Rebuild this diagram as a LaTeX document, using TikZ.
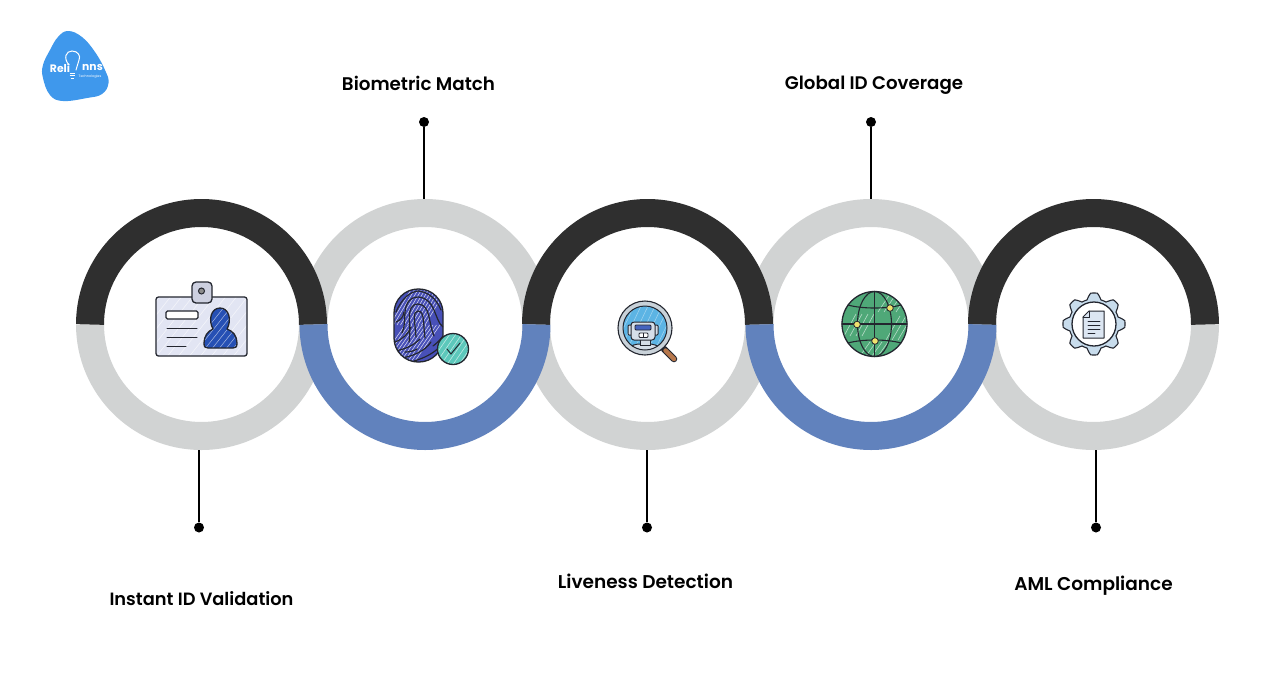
\documentclass[tikz,border=0pt]{standalone}
\usepackage{fontspec}
\setmainfont{Poppins}[UprightFont=* SemiBold,BoldFont=* Bold]
\newfontfamily\thinfont{Poppins}
\definecolor{ringgray}{HTML}{D1D3D3}
\definecolor{ringdark}{HTML}{2F2F2F}
\definecolor{ringblue}{HTML}{6182BD}
\definecolor{ink}{HTML}{23262F}
\definecolor{logoblue}{HTML}{3F98EC}
\definecolor{cardfill}{HTML}{E2E5F3}
\definecolor{clipfill}{HTML}{CDD0E0}
\definecolor{personblue}{HTML}{2650B4}
\definecolor{printblue}{HTML}{4850B8}
\definecolor{checkteal}{HTML}{5CC8BB}
\definecolor{handle}{HTML}{B8784C}
\definecolor{rim}{HTML}{C9D2D9}
\definecolor{glass}{HTML}{5CB4E4}
\definecolor{robot}{HTML}{D5DEE8}
\definecolor{visor}{HTML}{4664BE}
\definecolor{globegreen}{HTML}{4FA878}
\definecolor{pin}{HTML}{F0E26E}
\definecolor{gearblue}{HTML}{C8DCEC}
\definecolor{docblue}{HTML}{DCE6F2}
\tikzset{
  x=1pt,y=-1pt,
  ringarc/.style={line width=28pt,line cap=butt},
  ringnode/.style={circle,minimum size=251pt,inner sep=0pt,draw=none},
  dotnode/.style={circle,fill=black,minimum size=10pt,inner sep=0pt},
  labelnode/.style={text=black,inner sep=0pt,anchor=base},
  conn/.style={black,line width=2pt},
  sk/.style={draw=ink,line width=1.3pt,line join=round,line cap=round},
  skl/.style={draw=ink,line width=1pt,line cap=round},
  hatch/.style={white,line width=0.6pt,opacity=0.6}
}
\begin{document}
\begin{tikzpicture}
\path[use as bounding box,fill=white] (0,0) rectangle (1288,686);

% ring anchors
\node[ringnode] (r1) at (201.5,324.5) {};
\node[ringnode] (r2) at (425,324.5) {};
\node[ringnode] (r3) at (647.5,324.5) {};
\node[ringnode] (r4) at (871,324.5) {};
\node[ringnode] (r5) at (1093.5,324.5) {};

% gray halves
\foreach \c in {201.5,647.5,1093.5}{
  \draw[ringarc,ringgray] ({\c+111.5},324.5) arc[start angle=0,end angle=180,radius=111.5];}
\foreach \c in {425,871}{
  \draw[ringarc,ringgray] ({\c-111.5},324.5) arc[start angle=180,end angle=360,radius=111.5];}
% dark and blue halves
\foreach \c in {201.5,647.5,1093.5}{
  \draw[ringarc,ringdark] ({\c-111.5},324.5) arc[start angle=180,end angle=360,radius=111.5];}
\foreach \c in {425,871}{
  \draw[ringarc,ringblue] ({\c+111.5},324.5) arc[start angle=0,end angle=180,radius=111.5];}

% dots, connectors, labels
\node[dotnode] (d1) at (199,527.5) {};
\node[dotnode] (d2) at (424,122) {};
\node[dotnode] (d3) at (647,527.5) {};
\node[dotnode] (d4) at (871,122) {};
\node[dotnode] (d5) at (1096,527.5) {};
\draw[conn] (d1) -- (d1 |- r1.south);
\draw[conn] (d2) -- (d2 |- r2.north);
\draw[conn] (d3) -- (d3 |- r3.south);
\draw[conn] (d4) -- (d4 |- r4.north);
\draw[conn] (d5) -- (d5 |- r5.south);
\node[labelnode,font=\fontsize{17.8}{21}\selectfont] (l1) at (201.5,605.5) {Instant ID Validation};
\node[labelnode,font=\fontsize{18.3}{21}\selectfont] (l2) at (418.5,90) {Biometric Match};
\node[labelnode,font=\fontsize{18.5}{21}\selectfont] (l3) at (645.5,588) {Liveness Detection};
\node[labelnode,font=\fontsize{18.2}{21}\selectfont] (l4) at (874,89) {Global ID Coverage};
\node[labelnode,font=\fontsize{18.5}{21}\selectfont] (l5) at (1093.5,590) {AML Compliance};

% ---------- logo
\fill[logoblue] plot[smooth cycle,tension=0.7] coordinates
 {(68,31) (82,37) (95,52) (105,70) (108.5,83) (102,94) (87,98) (63,101) (50,95) (43,78) (43,65) (50,50) (58,37)};
\node[white,inner sep=0pt,font=\fontsize{10.8}{11}\selectfont\bfseries] (logoa) at (60,68) {Reli};
\node[white,inner sep=0pt,font=\fontsize{10.8}{11}\selectfont\bfseries] (logob) at (92.5,67) {nns};
\node[white,inner sep=0pt,font=\thinfont\fontsize{3.4}{4}\selectfont,anchor=north] (logoc) at (90,74.5) {Technologies};
\draw[white,line width=1pt,line cap=round] (69,65) .. controls (63,58) and (66,51) .. (72,51) .. controls (78,51) and (81,56) .. (79,60) -- (76,70);
\draw[white,line width=1pt] (69.5,73) -- (74.5,73) (69.5,75.5) -- (74.5,75.5) (70.5,78) -- (73.5,78);

% ---------- ID card
\fill[cardfill,rounded corners=2.5pt] (156,297) rectangle (247,356);
\begin{scope}
 \clip[rounded corners=2.5pt] (156,297) rectangle (247,356);
 \foreach \i in {0,11,...,140}{\draw[hatch] ({100+\i},358) -- ({150+\i},295);}
\end{scope}
\draw[sk,rounded corners=2.5pt] (156,297) rectangle (247,356);
\draw[sk,fill=clipfill,rounded corners=4pt] (192,282) rectangle (212,303);
\draw[ink,line width=1pt,fill=black!45] (201.5,291) circle[radius=3];
\draw[sk,fill=white,rounded corners=1.5pt] (166,311) rectangle (198,319);
\draw[skl] (167,328) -- (197,328) (167,337) -- (197,337) (167,346) -- (186,346);
\def\personpath{(213,329) .. controls (208,320) and (211,308) .. (220,308) .. controls (229,308) and (232,320) .. (227,329) .. controls (233,331) and (237,336) .. (237,343) .. controls (237,347) and (236,348) .. (233,348) -- (208,348) .. controls (205,348) and (204,347) .. (204,343) .. controls (204,336) and (208,331) .. (213,329) -- cycle}
\fill[personblue] \personpath;
\begin{scope}
 \clip \personpath;
 \foreach \i in {0,7,...,50}{\draw[hatch,line width=.5pt] ({190+\i},350) -- ({225+\i},306);}
\end{scope}
\draw[sk] \personpath;

% ---------- fingerprint
\fill[printblue,rounded corners=24pt] (394,289) rectangle (443,362);
\begin{scope}
 \clip[rounded corners=24pt] (394,289) rectangle (443,362);
 \foreach \i in {0,3.5,...,35}{\draw[hatch,line width=.55pt,opacity=.8] ({390+\i},325) -- ({412+\i},288);}
 \foreach \i in {0,3.5,...,35}{\draw[hatch,line width=.55pt,opacity=.8] ({378+\i},364) -- ({405+\i},325);}
 \begin{scope}[skl,line width=1.2pt]
 \draw (416,337) .. controls (415,322) and (412,311) .. (418,311) .. controls (425,311) and (423,325) .. (425,338);
 \draw (409,342) .. controls (412,325) and (404,305) .. (418,304) .. controls (431,305) and (428,322) .. (434,336);
 \draw (402,333) .. controls (408,322) and (399,298) .. (418,297) .. controls (436,298) and (434,320) .. (443,327);
 \draw (396,312) .. controls (402,298) and (410,292) .. (418,291) .. controls (428,292) and (436,298) .. (441,310);
 \draw (395,342) .. controls (403,339) and (408,334) .. (411,327);
 \draw (395,351) .. controls (406,349) and (414,345) .. (420,339);
 \draw (402,358) .. controls (413,356) and (425,351) .. (431,342);
 \draw (414,361) .. controls (424,358) and (433,354) .. (442,345);
 \draw (396,322) .. controls (401,320) and (403,317) .. (404,312);
 \draw (405,352) .. controls (410,352) and (414,351) .. (417,349);
 \draw (433,346) .. controls (437,343) and (440,340) .. (443,336);
 \end{scope}
\end{scope}
\draw[sk,rounded corners=24pt] (394,289) rectangle (443,362);
\fill[checkteal] (453,349) circle[radius=15.5];
\begin{scope}
 \clip (453,349) circle[radius=15.5];
 \foreach \i in {0,6,...,42}{\draw[hatch] ({428+\i},366) -- ({450+\i},334);}
\end{scope}
\draw[sk] (453,349) circle[radius=15.5];
\draw[skl] (447,349) -- (451,354) -- (460,343);

% ---------- magnifier
\draw[line width=6.5pt,ink,line cap=round] (664,349) -- (674,359);
\draw[line width=4.4pt,handle,line cap=round] (665.5,350.5) -- (674,359);
\draw[ink,line width=1.1pt,fill=rim] (645,328) circle[radius=27];
\fill[glass] (645,328) circle[radius=22];
\begin{scope}
 \clip (645,328) circle[radius=22];
 \foreach \i in {0,7,...,50}{\draw[hatch,line width=.5pt,opacity=.45] ({612+\i},352) -- ({635+\i},304);}
 \draw[skl,fill=robot] (627,352) .. controls (628,347) and (632,345) .. (638,344) -- (651,344) .. controls (657,345) and (661,347) .. (662,352);
 \draw[skl,fill=robot] (640,339) rectangle (650,345);
\end{scope}
\draw[ink,line width=1pt] (645,328) circle[radius=22];
\draw[skl,fill=robot,rounded corners=1pt] (628,325) rectangle (632,335);
\draw[skl,fill=robot,rounded corners=1pt] (654,325) rectangle (658,335);
\draw[skl,fill=robot,rounded corners=3pt] (631,322) rectangle (655,340);
\draw[skl,line width=.8pt,fill=visor,rounded corners=1pt] (635,325) rectangle (651,330);
\draw[skl,line width=.8pt,fill=white,rounded corners=1pt] (639,333) rectangle (648,337.5);
\draw[ink,line width=.6pt] (643.5,333) -- (643.5,337.5);

% ---------- globe
\fill[globegreen] (874.5,324) circle[radius=32.5];
\begin{scope}
 \clip (874.5,324) circle[radius=32.5];
 \foreach \i in {0,6,...,18}{
  \draw[hatch] ({844+\i},336) -- ({856+\i},314);
  \draw[hatch] ({886+\i},340) -- ({900+\i},316);
  \draw[hatch] ({878+\i},312) -- ({890+\i},294);
  \draw[hatch] ({860+\i},356) -- ({870+\i},342);
 }
\end{scope}
\draw[sk] (874.5,324) circle[radius=32.5];
\draw[skl,line width=1.1pt] (874.5,291.5) -- (874.5,356.5) (842,324) -- (907,324);
\draw[skl,line width=1.1pt] (874.5,324) ellipse[x radius=17,y radius=32.5];
\draw[skl,line width=1.1pt] (848,305) .. controls (862,309) and (887,309) .. (901,305);
\draw[skl,line width=1.1pt] (848,343) .. controls (862,339) and (887,339) .. (901,343);
\foreach \p in {(890,308),(857,324.5),(875,341)}{
  \draw[ink,line width=.8pt,fill=pin] \p circle[radius=3.3];}

% ---------- gear
\draw[draw=ink,line width=1.1pt,line join=round,fill=gearblue]
 plot[domain=0:358.5,samples=240] ({1094+(28+3*min(1,max(-1,1.5*cos(8*\x))))*cos(\x)},{324+(28+3*min(1,max(-1,1.5*cos(8*\x))))*sin(\x)}) -- cycle;
\draw[sk,fill=white] (1094,324) circle[radius=22];
\draw[sk,line width=1pt,fill=docblue] (1089,311) -- (1104,311) -- (1104,338) -- (1083,338) -- (1083,317) -- cycle;
\draw[skl,line width=.8pt] (1089,311) -- (1089,317) -- (1083,317);
\draw[skl,line width=.8pt] (1088,321) -- (1100,321) (1088,325) -- (1100,325) (1088,329) -- (1100,329) (1088,333) -- (1095,333);
\end{tikzpicture}
\end{document}
